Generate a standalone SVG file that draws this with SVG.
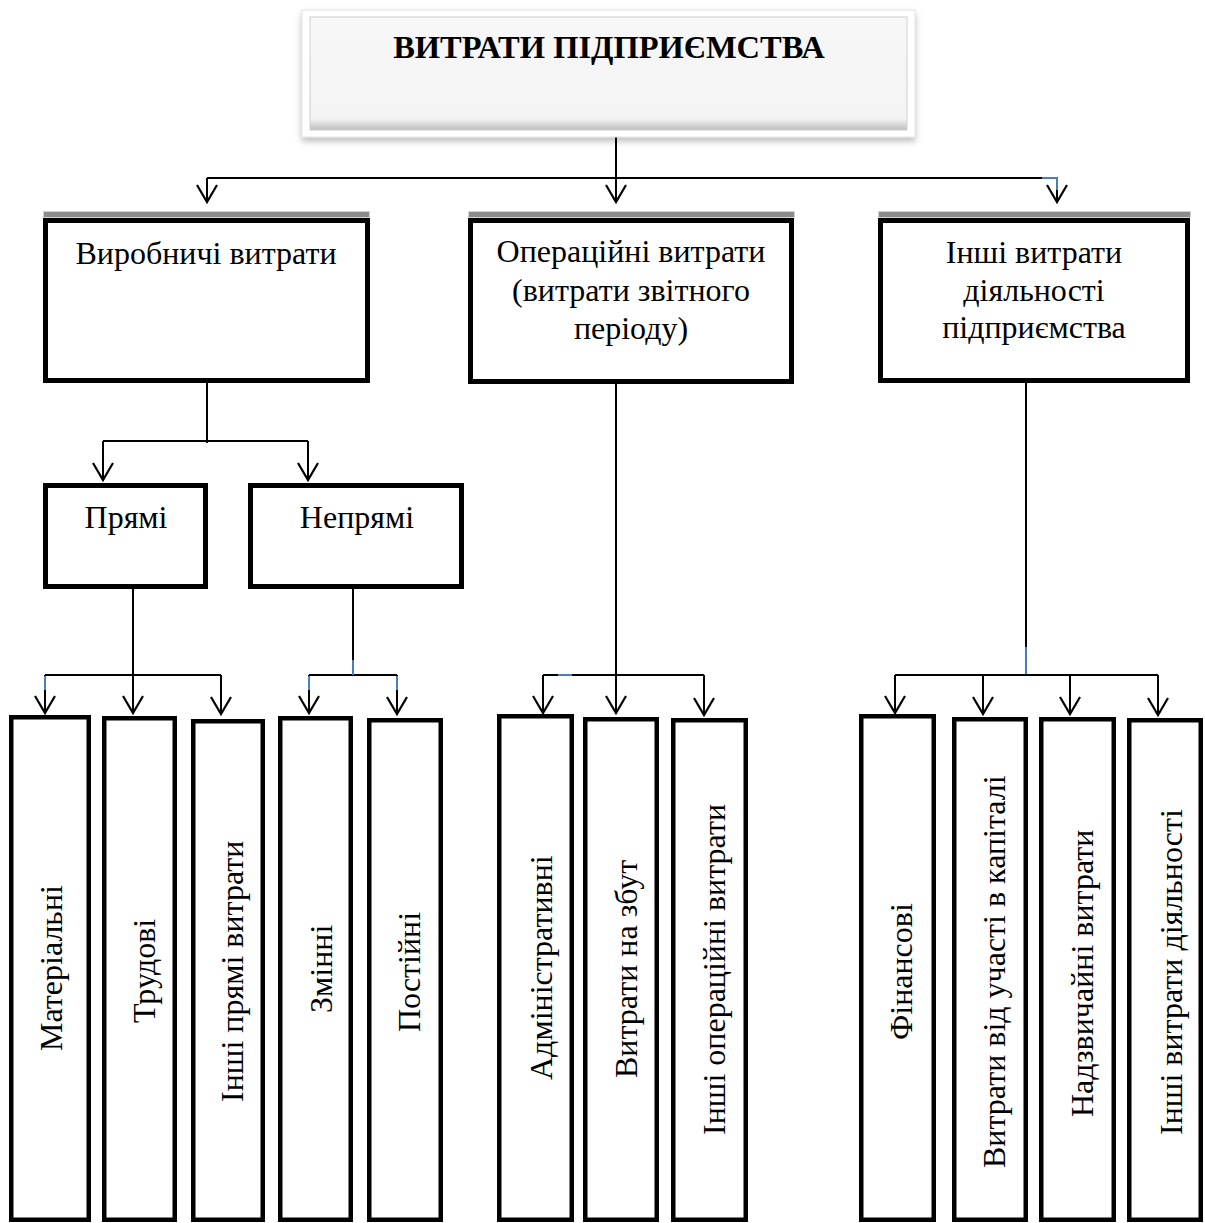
<svg xmlns="http://www.w3.org/2000/svg" width="1205" height="1223" viewBox="0 0 1205 1223">
<style>
  text { font-family: "Liberation Serif", "Times New Roman", serif; fill: #000; }
  .t { font-size: 32px; text-anchor: middle; }
  .v { font-size: 32px; }
  .title { font-size: 32.5px; font-weight: bold; text-anchor: middle; }
  .box { fill: #fff; stroke: #000; stroke-width: 5; }
  .leaf { fill: #fff; stroke: #000; stroke-width: 4.5; }
  .bar { fill: #8c8c8c; stroke: #d4d4d4; stroke-width: 1; }
  .ln { fill: none; stroke: #000; stroke-width: 2; }
  .ar { fill: none; stroke: #000; stroke-width: 2; marker-end: url(#arr); }
  .blue { fill: none; stroke: #4a7ebb; stroke-width: 2; }
</style>
<defs>
  <marker id="arr" markerUnits="userSpaceOnUse" markerWidth="20" markerHeight="24" refX="0" refY="0" orient="auto" overflow="visible">
    <path d="M-17,-10 L0,0 L-17,10" fill="none" stroke="#000" stroke-width="2.2"/>
  </marker>
  <filter id="sh" x="-5%" y="-10%" width="110%" height="130%">
    <feDropShadow dx="0" dy="4" stdDeviation="3" flood-color="#000" flood-opacity="0.25"/>
  </filter>
  <linearGradient id="bev" x1="0" y1="0" x2="0" y2="1">
    <stop offset="0" stop-color="#f7f7f7"/>
    <stop offset="0.9" stop-color="#f4f4f4"/>
    <stop offset="1" stop-color="#bdbdbd"/>
  </linearGradient>
</defs>
<rect width="1205" height="1223" fill="#fff"/>

<g id="connectors">
  <path class="ar" d="M616,137 V202"/>
  <path class="ln" d="M207,178 H1057"/>
  <path class="ar" d="M207,178 V202"/>
  <path class="ar" d="M1057,178 V202"/>
  <path class="blue" d="M1042,178 H1057 V190"/>

  <path class="ln" d="M207,383 V443"/>
  <path class="ln" d="M103,441 H308"/>
  <path class="ar" d="M103,441 V480"/>
  <path class="ar" d="M308,441 V480"/>

  <path class="ar" d="M133,589 V713"/>
  <path class="ln" d="M45,675 H221"/>
  <path class="ar" d="M45,675 V713"/>
  <path class="ar" d="M221,675 V714"/>
  <path class="blue" d="M45,676 V690"/>

  <path class="ln" d="M353,589 V675"/>
  <path class="ln" d="M309,675 H397"/>
  <path class="ar" d="M309,675 V713"/>
  <path class="ar" d="M397,675 V714"/>
  <path class="blue" d="M353,660 V675"/>
  <path class="blue" d="M309,676 V690"/>
  <path class="blue" d="M397,676 V690"/>

  <path class="ar" d="M616,384 V713"/>
  <path class="ln" d="M543,675 H704"/>
  <path class="ar" d="M543,675 V713"/>
  <path class="ar" d="M704,675 V715"/>
  <path class="blue" d="M558,675 H572"/>

  <path class="ln" d="M1026,383 V675"/>
  <path class="blue" d="M1026,647 V675"/>
  <path class="ln" d="M895,675 H1158"/>
  <path class="ar" d="M895,675 V713"/>
  <path class="ar" d="M983,675 V714"/>
  <path class="ar" d="M1070,675 V714"/>
  <path class="ar" d="M1158,675 V715"/>
</g>

<g id="root">
  <rect x="302" y="10" width="613" height="127" fill="#fff" stroke="#e2e2e2" stroke-width="1" filter="url(#sh)"/>
  <rect x="310" y="17" width="597" height="113" fill="url(#bev)" stroke="#cfcfcf" stroke-width="1"/>
  <text class="title" x="609" y="58">ВИТРАТИ ПІДПРИЄМСТВА</text>
</g>

<g id="production">
  <rect class="bar" x="43.5" y="211.5" width="326" height="6"/>
  <rect class="box" x="45.5" y="220.5" width="322" height="160"/>
  <text class="t" x="206" y="264">Виробничі витрати</text>
</g>

<g id="operational">
  <rect class="bar" x="468.5" y="211.5" width="326" height="6"/>
  <rect class="box" x="470.5" y="220.5" width="321" height="161"/>
  <text class="t" x="631" y="262">Операційні витрати</text>
  <text class="t" x="631" y="301">(витрати звітного</text>
  <text class="t" x="631" y="339">періоду)</text>
</g>

<g id="other">
  <rect class="bar" x="878.5" y="211.5" width="312" height="6"/>
  <rect class="box" x="880.5" y="220.5" width="307" height="160"/>
  <text class="t" x="1034" y="263">Інші витрати</text>
  <text class="t" x="1034" y="301">діяльності</text>
  <text class="t" x="1034" y="338">підприємства</text>
</g>

<g id="direct">
  <rect class="box" x="45.5" y="485.5" width="160" height="101"/>
  <text class="t" x="126" y="528">Прямі</text>
</g>

<g id="indirect">
  <rect class="box" x="250.5" y="485.5" width="211" height="101"/>
  <text class="t" x="357" y="528">Непрямі</text>
</g>

<g id="material">
  <rect class="leaf" x="11.25" y="717.25" width="77.5" height="502.5"/>
  <text class="v" transform="translate(62,1051) rotate(-90)">Матеріальні</text>
</g>
<g id="labour">
  <rect class="leaf" x="104.25" y="718.25" width="70.5" height="501.5"/>
  <text class="v" transform="translate(155,1023) rotate(-90)">Трудові</text>
</g>
<g id="other-direct">
  <rect class="leaf" x="193.25" y="721.25" width="69.5" height="498.5"/>
  <text class="v" transform="translate(243,1102) rotate(-90)">Інші прямі витрати</text>
</g>
<g id="variable">
  <rect class="leaf" x="280.25" y="718.25" width="70.5" height="501.5"/>
  <text class="v" transform="translate(332,1013) rotate(-90)">Змінні</text>
</g>
<g id="fixed">
  <rect class="leaf" x="369.25" y="720.25" width="71.5" height="499.5"/>
  <text class="v" transform="translate(420,1032) rotate(-90)">Постійні</text>
</g>
<g id="admin">
  <rect class="leaf" x="499.25" y="716.25" width="72.5" height="503.5"/>
  <text class="v" transform="translate(552,1080) rotate(-90)">Адміністративні</text>
</g>
<g id="sales">
  <rect class="leaf" x="585.25" y="719.25" width="71.5" height="500.5"/>
  <text class="v" transform="translate(637,1078) rotate(-90)">Витрати на збут</text>
</g>
<g id="other-operational">
  <rect class="leaf" x="673.25" y="720.25" width="72.5" height="499.5"/>
  <text class="v" transform="translate(725,1135) rotate(-90)">Інші операційні витрати</text>
</g>
<g id="financial">
  <rect class="leaf" x="861.25" y="716.25" width="72.5" height="503.5"/>
  <text class="v" transform="translate(912,1040) rotate(-90)">Фінансові</text>
</g>
<g id="equity">
  <rect class="leaf" x="954.25" y="719.25" width="71.5" height="500.5"/>
  <text class="v" transform="translate(1005,1168) rotate(-90)">Витрати від участі в капіталі</text>
</g>
<g id="extraordinary">
  <rect class="leaf" x="1041.25" y="719.25" width="72.5" height="500.5"/>
  <text class="v" transform="translate(1093,1117) rotate(-90)">Надзвичайні витрати</text>
</g>
<g id="other-activity">
  <rect class="leaf" x="1129.25" y="720.25" width="71.5" height="499.5"/>
  <text class="v" transform="translate(1182,1135) rotate(-90)">Інші витрати діяльності</text>
</g>
</svg>
